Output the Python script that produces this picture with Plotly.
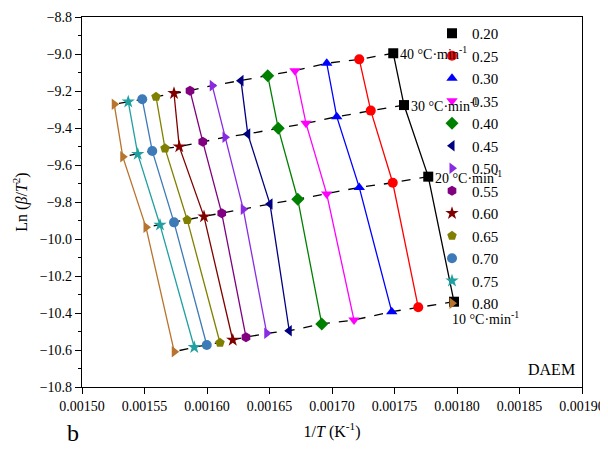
import plotly.graph_objects as go

# conversion ratios and heating rates (points ordered 40, 30, 20, 10 °C/min)
alphas = ["0.20", "0.25", "0.30", "0.35", "0.40", "0.45", "0.50",
          "0.55", "0.60", "0.65", "0.70", "0.75", "0.80"]
rates = ["40", "30", "20", "10"]

inv_t = [
    [0.0017490, 0.0017576, 0.0017770, 0.0017976],
    [0.0017218, 0.0017310, 0.0017486, 0.0017690],
    [0.0016958, 0.0017038, 0.0017218, 0.0017478],
    [0.0016704, 0.0016792, 0.0016958, 0.0017176],
    [0.0016486, 0.0016570, 0.0016726, 0.0016918],
    [0.0016272, 0.0016326, 0.0016504, 0.0016658],
    [0.0016042, 0.0016144, 0.0016290, 0.0016478],
    [0.0015864, 0.0015966, 0.0016118, 0.0016312],
    [0.0015736, 0.0015778, 0.0015976, 0.0016206],
    [0.0015592, 0.0015664, 0.0015842, 0.0016104],
    [0.0015482, 0.0015562, 0.0015736, 0.0015998],
    [0.0015370, 0.0015446, 0.0015624, 0.0015898],
    [0.0015258, 0.0015326, 0.0015512, 0.0015738],
]
ln_bt2 = [
    [-8.996, -9.276, -9.663, -10.339],
    [-9.029, -9.306, -9.696, -10.369],
    [-9.050, -9.339, -9.721, -10.393],
    [-9.090, -9.375, -9.757, -10.438],
    [-9.117, -9.402, -9.785, -10.459],
    [-9.144, -9.432, -9.811, -10.496],
    [-9.171, -9.450, -9.839, -10.510],
    [-9.198, -9.474, -9.861, -10.531],
    [-9.212, -9.501, -9.879, -10.546],
    [-9.231, -9.510, -9.897, -10.561],
    [-9.245, -9.524, -9.910, -10.573],
    [-9.258, -9.541, -9.924, -10.585],
    [-9.272, -9.555, -9.937, -10.609],
]

colors = ["black", "red", "blue", "magenta", "green", "#000080", "#8a2be2",
          "#800080", "#800000", "#808000", "#3d7ab8", "#20a0a0", "#b8732c"]
symbols = ["square", "circle", "triangle-up", "triangle-down", "diamond",
           "triangle-left", "triangle-right", "hexagon", "star", "pentagon",
           "circle", "star", "triangle-right"]

font = "Liberation Serif"
fig = go.Figure()

# dashed iso-rate lines
for j in range(len(rates)):
    fig.add_trace(go.Scatter(
        x=[row[j] for row in inv_t], y=[row[j] for row in ln_bt2],
        mode="lines", line=dict(color="black", dash="dash", width=1.3),
        showlegend=False, hoverinfo="skip"))

for i, a in enumerate(alphas):
    fig.add_trace(go.Scatter(
        x=inv_t[i], y=ln_bt2[i], mode="lines",
        line=dict(color=colors[i], width=1.3), showlegend=False))
    fig.add_trace(go.Scatter(
        x=inv_t[i], y=ln_bt2[i], name=a, mode="markers",
        marker=dict(symbol=symbols[i], size=10, color=colors[i])))

# heating rate labels next to the 0.20 points
for j, r in enumerate(rates):
    dx = [0.0000040, 0.0000040, 0.0000040, -0.0000035][j]
    dy = [0, 0, 0, -0.09][j]
    fig.add_annotation(
        x=inv_t[0][j] + dx, y=ln_bt2[0][j] + dy,
        text=f"{r} °C·min<sup>-1</sup>", showarrow=False,
        xanchor="left", font=dict(size=14, family=font, color="black"))

fig.add_annotation(x=0.99, y=0.02, xref="paper", yref="paper", text="DAEM",
                   showarrow=False, xanchor="right", yanchor="bottom",
                   font=dict(size=16, family=font, color="black"))
fig.add_annotation(x=-0.035, y=-0.125, xref="paper", yref="paper", text="b",
                   showarrow=False, yanchor="middle",
                   font=dict(size=24, family=font, color="black"))

axis = dict(showline=True, linecolor="black", linewidth=1.3, mirror=True,
            ticks="outside", tickcolor="black", ticklen=6, showgrid=False,
            zeroline=False, automargin=False,
            tickfont=dict(size=14, family=font, color="black"))
fig.update_xaxes(range=[0.0015, 0.0019], dtick=0.00005, tickformat=".5f",
                 title=dict(text="1/<i>T</i> (K<sup>-1</sup>)", standoff=12,
                            font=dict(size=16, family=font, color="black")),
                 **axis)
fig.update_yaxes(range=[-10.8, -8.8], dtick=0.2, tickformat=".1f",
                 title=dict(text="Ln (<i>β</i>/<i>T</i><sup>2</sup>)", standoff=8,
                            font=dict(size=16, family=font, color="black")),
                 minor=dict(ticks="outside", ticklen=3, tickcolor="black", dtick=0.1),
                 **axis)

fig.update_layout(
    width=600, height=442, plot_bgcolor="white", paper_bgcolor="white",
    margin=dict(l=74, r=26, t=9, b=63),
    legend=dict(x=0.70, y=1.0, xanchor="left", yanchor="top",
                bgcolor="rgba(0,0,0,0)", tracegroupgap=0,
                font=dict(size=15, family=font, color="black")),
)

fig.write_html("out.html")
